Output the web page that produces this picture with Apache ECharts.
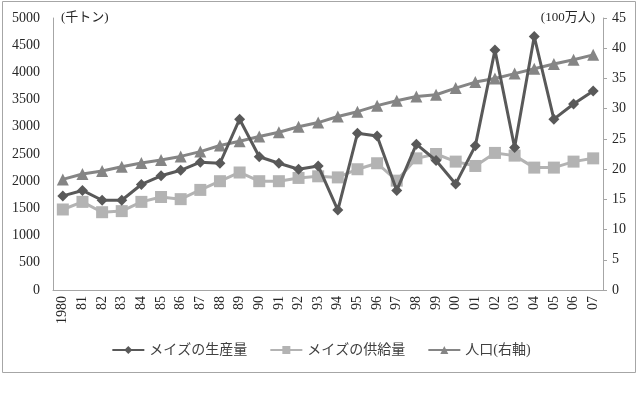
<!DOCTYPE html>
<html>
<head>
<meta charset="utf-8">
<script src="https://cdn.jsdelivr.net/npm/echarts@6/dist/echarts.min.js"></script>
<style>
	html, body { margin: 0; padding: 0; background: #fff; }
	#chart { width: 642px; height: 395px; }
</style>
</head>
<body>
<div id="chart"></div>
<script>
	// 年
	var years = ['1980', '81', '82', '83', '84', '85', '86', '87', '88', '89', '90', '91', '92', '93',
		'94', '95', '96', '97', '98', '99', '00', '01', '02', '03', '04', '05', '06', '07'];
	// メイズの生産量 (千トン)
	var production = [1730, 1830, 1650, 1650, 1940, 2100, 2200, 2350, 2330, 3140, 2450, 2330, 2220, 2280,
		1470, 2880, 2830, 1830, 2680, 2380, 1950, 2650, 4410, 2620, 4660, 3140, 3420, 3660];
	// メイズの供給量 (千トン)
	var supply = [1480, 1620, 1430, 1450, 1620, 1710, 1670, 1840, 2000, 2160, 2000, 2000, 2060, 2090,
		2070, 2220, 2330, 2010, 2420, 2500, 2360, 2280, 2520, 2470, 2250, 2250, 2360, 2420];
	// 人口 (100万人)
	var population = [18.3, 19.2, 19.7, 20.4, 21.0, 21.5, 22.1, 22.9, 23.9, 24.6, 25.4, 26.1, 27.0, 27.7,
		28.7, 29.5, 30.5, 31.3, 32.0, 32.3, 33.4, 34.4, 35.0, 35.8, 36.6, 37.4, 38.1, 38.9];

	var font = '"Liberation Serif", "Noto Sans CJK JP", serif';
	var chart = echarts.init(document.getElementById('chart'));

	var option = {
		animation: false,
		textStyle: { fontFamily: font },
		graphic: [{
			type: 'rect',
			shape: { x: 2.5, y: 1.5, width: 633, height: 371 },
			style: { fill: 'none', stroke: '#a6a6a6', lineWidth: 1 },
			silent: true
		}],
		grid: {
			left: 53,
			right: 39,
			top: 18,
			bottom: 105
		},
		legend: {
			bottom: 33,
			left: 'center',
			itemWidth: 32,
			itemHeight: 10,
			itemGap: 22,
			textStyle: { fontFamily: font, fontSize: 14, color: '#404040' },
			data: ['メイズの生産量', 'メイズの供給量', '人口(右軸)']
		},
		xAxis: {
			type: 'category',
			data: years,
			boundaryGap: true,
			axisLine: { lineStyle: { color: '#a6a6a6', width: 1 } },
			axisTick: { show: false },
			axisLabel: {
				rotate: 90,
				interval: 0,
				margin: 6,
				fontSize: 14,
				color: '#262626',
				fontFamily: font
			}
		},
		yAxis: [{
			type: 'value',
			min: 0,
			max: 5000,
			interval: 500,
			name: '(千トン)',
			nameLocation: 'end',
			nameGap: 0,
			nameTextStyle: { align: 'left', verticalAlign: 'middle', padding: [0, 0, 0, 8], fontSize: 13, color: '#262626', fontFamily: font },
			axisLine: { show: true, lineStyle: { color: '#a6a6a6' } },
			axisTick: { show: false },
			splitLine: { show: false },
			axisLabel: {
				margin: 13, fontSize: 14, color: '#262626', fontFamily: font,
				formatter: function (v) { return String(v); }
			}
		}, {
			type: 'value',
			min: 0,
			max: 45,
			interval: 5,
			name: '(100万人)',
			nameLocation: 'end',
			nameGap: 0,
			nameTextStyle: { align: 'right', verticalAlign: 'middle', padding: [0, 8, 0, 0], fontSize: 13, color: '#262626', fontFamily: font },
			axisLine: { show: true, lineStyle: { color: '#a6a6a6' } },
			axisTick: { show: true, length: 4, lineStyle: { color: '#a6a6a6' } },
			splitLine: { show: false },
			axisLabel: { margin: 9, fontSize: 14, color: '#262626', fontFamily: font }
		}],
		series: [{
			name: 'メイズの生産量',
			type: 'line',
			data: production,
			symbol: 'diamond',
			symbolSize: 11,
			lineStyle: { color: '#595959', width: 3 },
			itemStyle: { color: '#595959' },
			z: 4
		}, {
			name: 'メイズの供給量',
			type: 'line',
			data: supply,
			symbol: 'rect',
			symbolSize: 12,
			lineStyle: { color: '#b3b3b3', width: 3 },
			itemStyle: { color: '#b3b3b3' },
			z: 3
		}, {
			name: '人口(右軸)',
			type: 'line',
			yAxisIndex: 1,
			data: population,
			symbol: 'triangle',
			symbolSize: 12,
			lineStyle: { color: '#858585', width: 3 },
			itemStyle: { color: '#858585' },
			z: 2
		}]
	};
	chart.setOption(option);
</script>
</body>
</html>
